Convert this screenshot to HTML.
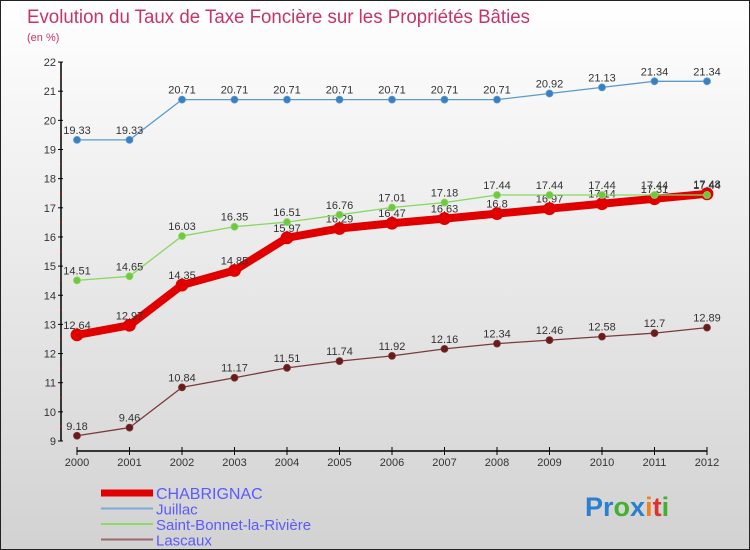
<!DOCTYPE html>
<html><head><meta charset="utf-8"><style>
body{margin:0}
#c{width:750px;height:550px;position:relative;box-sizing:border-box;border:1px solid #222;background:linear-gradient(#ffffff,#d2d2d2);font-family:"Liberation Sans",sans-serif;overflow:hidden}
</style></head><body>
<div id="c">
<svg id="s" width="750" height="550" style="position:absolute;left:0;top:0">
<text x="26" y="22" font-size="19" fill="#c8336a" textLength="503" lengthAdjust="spacingAndGlyphs">Evolution du Taux de Taxe Foncière sur les Propriétés Bâties</text>
<text x="26" y="40" font-size="11" fill="#c8336a">(en %)</text>
<g id="axes"></g><g id="series"></g><g id="legend"></g>
<text x="584" y="515" font-size="27" font-weight="bold"><tspan fill="#2a7fd0">Pr</tspan><tspan fill="#44b030">o</tspan><tspan fill="#2a7fd0">x</tspan><tspan fill="#f08020">i</tspan><tspan fill="#e03030">t</tspan><tspan fill="#44b030">i</tspan></text>
</svg>
</div>
<script>
const years=[2000,2001,2002,2003,2004,2005,2006,2007,2008,2009,2010,2011,2012];
const chabrignac=[12.64,12.97,14.35,14.85,15.97,16.29,16.47,16.63,16.8,16.97,17.14,17.31,17.48];
const juillac=[19.33,19.33,20.71,20.71,20.71,20.71,20.71,20.71,20.71,20.92,21.13,21.34,21.34];
const saintBonnet=[14.51,14.65,16.03,16.35,16.51,16.76,17.01,17.18,17.44,17.44,17.44,17.44,17.44];
const lascaux=[9.18,9.46,10.84,11.17,11.51,11.74,11.92,12.16,12.34,12.46,12.58,12.7,12.89];
const yTicks=[9,10,11,12,13,14,15,16,17,18,19,20,21,22];
const NS="http://www.w3.org/2000/svg";
const X=i=>76+i*52.5, Y=v=>440-(v-9)*29.15;
function mk(p,t,a){const e=document.createElementNS(NS,t);for(const k in a)e.setAttribute(k,a[k]);p.appendChild(e);return e;}
const ax=document.getElementById('axes');
let l=mk(ax,'line',{x1:60,y1:Y(22),x2:60,y2:440,stroke:'#000','stroke-width':1.5});


l=mk(ax,'line',{x1:76,y1:450,x2:706,y2:450,stroke:'#000','stroke-width':1.5});


yTicks.forEach(v=>{
 mk(ax,'line',{x1:57,y1:Y(v),x2:62,y2:Y(v),stroke:'#000'});
 if(v<22) mk(ax,'line',{x1:59,y1:Y(v+0.5),x2:61,y2:Y(v+0.5),stroke:'#e00'});
 const t=mk(ax,'text',{x:55,y:Y(v)+4,'font-size':11,'text-anchor':'end',fill:'#333'});
 t.textContent=v;
 
 
});
years.forEach((yr,i)=>{
 mk(ax,'line',{x1:X(i),y1:446,x2:X(i),y2:454,stroke:'#000'});
 const t=mk(ax,'text',{x:X(i),y:465,'font-size':11,'text-anchor':'middle',fill:'#333'});
 t.textContent=yr;
 
 
});
const sg=document.getElementById('series');
function series(name,data,color,w,r,dot,dy){
 const g=mk(sg,'g',{});
 
 
 const pl=mk(g,'polyline',{points:data.map((v,i)=>X(i)+','+Y(v)).join(' '),fill:'none',stroke:color,'stroke-width':w,'stroke-linejoin':'round'});
 
 
 data.forEach((v,i)=>{
  const c=mk(g,'circle',{cx:X(i),cy:Y(v),r:r,fill:dot,stroke:color,'stroke-width':0.8});
  
  
  const t=mk(g,'text',{x:X(i),y:Y(v)+dy,'font-size':11,'text-anchor':'middle',fill:'#333'});
  t.textContent=v;
  
  
 });
}
series('lascaux',lascaux,'#7a3a3a',1.3,3.5,'#6a1a1a',-6);
series('chabrignac',chabrignac,'#e00000',8,6,'#e00000',-6);
series('juillac',juillac,'#5a9ad0',1.3,3.5,'#3a80c0',-6);
series('saint-bonnet',saintBonnet,'#88d860',1.3,3.5,'#70c840',-6);
const lg=document.getElementById('legend');
[['CHABRIGNAC','#e00000',7,'chabrignac'],['Juillac','#7aaad6',2,'juillac'],['Saint-Bonnet-la-Rivière','#90d870',2,'saint-bonnet'],['Lascaux','#9a6a6a',2,'lascaux']].forEach((d,i)=>{
 const y=492+i*15.5;
 const ln=mk(lg,'line',{x1:100,y1:y,x2:152,y2:y,stroke:d[1],'stroke-width':d[2]});
 
 
 const t=mk(lg,'text',{x:155,y:y+6,'font-size':i==0?16:15,fill:'#5a5aff'});
 t.textContent=d[0];
 
 
});
</script>
</body></html>
